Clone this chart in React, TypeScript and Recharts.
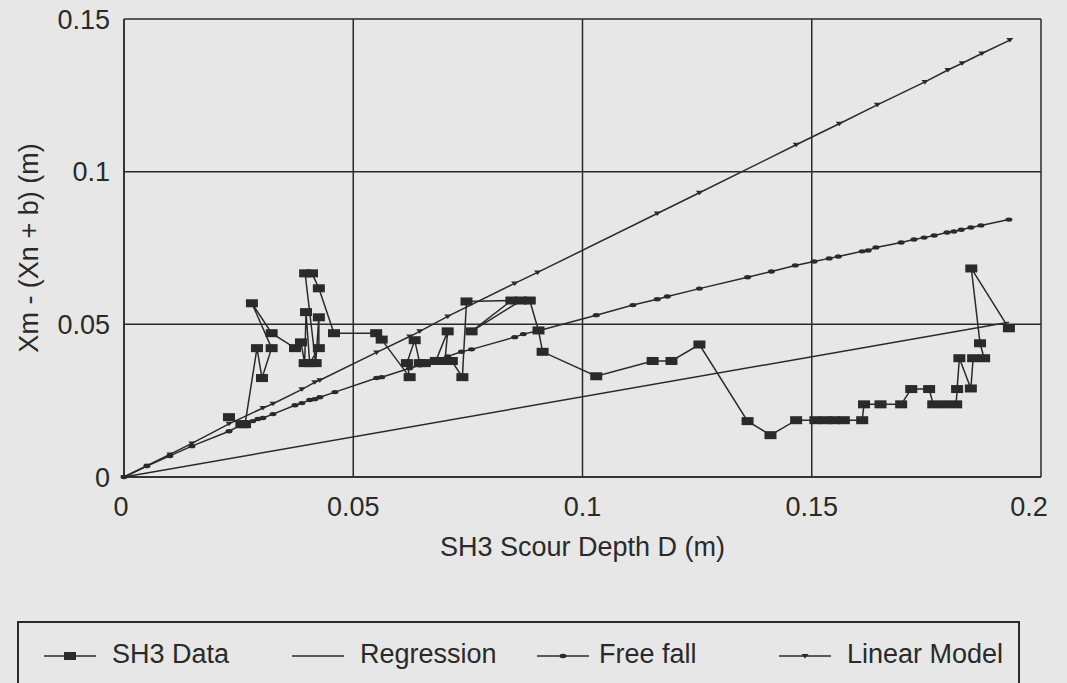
import { LineChart, Line, XAxis, YAxis, CartesianGrid } from 'recharts';

const xTicks = [0, 0.05, 0.1, 0.15, 0.2];
const yTicks = [0, 0.05, 0.1, 0.15];

// SH3 data, in measurement order
const sh3Depth = [
  0.0229, 0.0256, 0.0264, 0.029, 0.0301, 0.0322, 0.0279, 0.0322, 0.0373, 0.0386,
  0.0394, 0.0397, 0.0405, 0.0425, 0.0425, 0.0418, 0.0395, 0.041, 0.0425, 0.0458,
  0.055, 0.0562, 0.0623, 0.0617, 0.0634, 0.0645, 0.0656, 0.068, 0.0706, 0.07,
  0.0715, 0.0738, 0.0747, 0.0845, 0.0758, 0.0866, 0.0885, 0.0904, 0.0913, 0.103,
  0.1153, 0.1194, 0.1255, 0.136, 0.141, 0.1466, 0.1508, 0.153, 0.155, 0.157,
  0.161, 0.1614, 0.165, 0.1695, 0.1717, 0.1756, 0.1765, 0.179, 0.1815, 0.1817,
  0.1822, 0.1847, 0.1852, 0.1876, 0.1867, 0.1848, 0.193,
];
const sh3Value = [
  0.0196, 0.0173, 0.0173, 0.0422, 0.0324, 0.0422, 0.0569, 0.0471, 0.0422, 0.0441,
  0.0373, 0.054, 0.0373, 0.0422, 0.0523, 0.0373, 0.0667, 0.0667, 0.0618, 0.0471,
  0.0471, 0.045, 0.0327, 0.0373, 0.0448, 0.0373, 0.0373, 0.038, 0.0477, 0.038,
  0.038, 0.0327, 0.0575, 0.0578, 0.0477, 0.0578, 0.0578, 0.048, 0.041, 0.033,
  0.038, 0.038, 0.0434, 0.0183, 0.0137, 0.0186, 0.0186, 0.0186, 0.0186, 0.0186,
  0.0186, 0.0238, 0.0238, 0.0238, 0.0288, 0.0288, 0.0238, 0.0238, 0.0238, 0.0288,
  0.0389, 0.029, 0.0389, 0.0389, 0.0438, 0.0683, 0.0487,
];

const regressionDepth = [0, 0.193];
const regressionValue = [0, 0.0507];

const freeFallDepth = [
  0, 0.005, 0.01, 0.0148, 0.0229, 0.0259, 0.0281, 0.0292, 0.0303, 0.0325,
  0.0373, 0.0388, 0.0405, 0.0416, 0.0427, 0.046, 0.0551, 0.0562, 0.0623, 0.0645,
  0.068, 0.0706, 0.0736, 0.0758, 0.0852, 0.0871, 0.0906, 0.103, 0.111, 0.1163,
  0.1185, 0.1255, 0.136, 0.1412, 0.1464, 0.1505, 0.1538, 0.1558, 0.161, 0.1623,
  0.164, 0.1695, 0.1723, 0.1745, 0.1767, 0.1795, 0.181, 0.1826, 0.1847, 0.1869,
  0.193,
];
const freeFallValue = [
  0, 0.0036, 0.0069, 0.0101, 0.015, 0.0173, 0.0183, 0.019, 0.0193, 0.0206,
  0.0235, 0.0242, 0.0252, 0.0255, 0.0261, 0.0278, 0.0324, 0.0327, 0.0356, 0.0366,
  0.0383, 0.0395, 0.041, 0.0418, 0.0458, 0.0468, 0.048, 0.053, 0.0563, 0.0582,
  0.0591, 0.0617, 0.0654, 0.0673, 0.0693, 0.0706, 0.0716, 0.0722, 0.0739, 0.0742,
  0.0752, 0.0768, 0.0778, 0.0784, 0.0791, 0.0801, 0.0804, 0.081, 0.0817, 0.0824,
  0.0843,
];

const linearDepth = [
  0, 0.005, 0.01, 0.0148, 0.0229, 0.0303, 0.0325, 0.0388, 0.0416, 0.0427,
  0.0551, 0.0623, 0.0645, 0.0706, 0.0852, 0.0902, 0.1163, 0.1255, 0.1466, 0.156,
  0.1643, 0.1747, 0.1797, 0.1828, 0.1871, 0.1932,
];
const linearValue = [
  0, 0.0037, 0.0074, 0.011, 0.0174, 0.0226, 0.024, 0.0287, 0.031, 0.0317,
  0.0408, 0.046, 0.0477, 0.0526, 0.0634, 0.067, 0.0863, 0.0931, 0.1088, 0.1157,
  0.1219, 0.1294, 0.1333, 0.1355, 0.1387, 0.1431,
];

const pairs = (xs: number[], ys: number[]) => xs.map((d, i) => ({ d, v: ys[i] }));
const sh3Data = pairs(sh3Depth, sh3Value);
const regressionData = pairs(regressionDepth, regressionValue);
const freeFallData = pairs(freeFallDepth, freeFallValue);
const linearData = pairs(linearDepth, linearValue);

const INK = '#2a2a2a';
const FONT = '"Liberation Sans", Arial, sans-serif';

const SquareDot = (p: any) => (
  <rect key={p.key} x={p.cx - 6} y={p.cy - 4} width={12} height={8} fill={INK} />
);
const OvalDot = (p: any) => (
  <ellipse key={p.key} cx={p.cx} cy={p.cy} rx={3.5} ry={2.2} fill={INK} />
);
const TriDot = (p: any) => (
  <path key={p.key} d={`M${p.cx - 3.5},${p.cy - 2} L${p.cx + 3.5},${p.cy - 2} L${p.cx},${p.cy + 2.5} Z`} fill={INK} />
);

const XTick = (p: any) => {
  const v = p.payload.value;
  const shift = v === 0.2 ? -12 : v === 0 ? -3 : 0;
  return (
    <text x={p.x + shift} y={p.y} dy="0.71em" textAnchor="middle" fill={INK} fontSize={27} fontFamily={FONT}>
      {String(v)}
    </text>
  );
};

const legendItems = [
  { name: 'SH3 Data', glyph: 'square', left: 44, textLeft: 112 },
  { name: 'Regression', glyph: 'none', left: 292, textLeft: 360 },
  { name: 'Free fall', glyph: 'oval', left: 537, textLeft: 599 },
  { name: 'Linear Model', glyph: 'tri', left: 779, textLeft: 847 },
];

function Glyph({ kind }: { kind: string }) {
  return (
    <svg width={52} height={12} style={{ display: 'block' }}>
      <line x1={0} y1={6} x2={52} y2={6} stroke={INK} strokeWidth={1.5} />
      {kind === 'square' && <rect x={20} y={2} width={12} height={8} fill={INK} />}
      {kind === 'oval' && <ellipse cx={26} cy={6} rx={3.5} ry={2.2} fill={INK} />}
      {kind === 'tri' && <path d="M22.5,4 L29.5,4 L26,8.5 Z" fill={INK} />}
    </svg>
  );
}

export default function App() {
  return (
    <div style={{ position: 'absolute', left: 0, top: 0, width: 1067, height: 683, background: '#e7e7e7', overflow: 'hidden', fontFamily: FONT }}>
      <LineChart width={1067} height={683} margin={{ top: 19, right: 26, left: 24, bottom: 146 }}>
        <CartesianGrid stroke={INK} strokeWidth={1.5} horizontalValues={yTicks} verticalValues={xTicks} />
        <XAxis
          type="number"
          dataKey="d"
          domain={[0, 0.2]}
          ticks={xTicks}
          height={60}
          tickLine={false}
          tickSize={0}
          tickMargin={20}
          axisLine={{ stroke: INK, strokeWidth: 1.5 }}
          tick={<XTick />}
          label={{ value: 'SH3 Scour Depth D (m)', position: 'bottom', offset: 0, fill: INK, fontSize: 27, fontFamily: FONT }}
        />
        <YAxis
          type="number"
          dataKey="v"
          domain={[0, 0.15]}
          ticks={yTicks}
          width={100}
          tickLine={false}
          tickSize={0}
          tickMargin={14}
          axisLine={{ stroke: INK, strokeWidth: 1.5 }}
          tick={{ fill: INK, fontSize: 27, fontFamily: FONT }}
          label={{ value: 'Xm - (Xn + b)  (m)', angle: -90, position: 'insideLeft', offset: 4, fill: INK, fontSize: 27, fontFamily: FONT, style: { textAnchor: 'middle', whiteSpace: 'pre' } }}
        />
        <Line data={regressionData} dataKey="v" name="Regression" stroke={INK} strokeWidth={1.5} dot={false} isAnimationActive={false} />
        <Line data={linearData} dataKey="v" name="Linear Model" stroke={INK} strokeWidth={1.5} dot={<TriDot />} isAnimationActive={false} />
        <Line data={freeFallData} dataKey="v" name="Free fall" stroke={INK} strokeWidth={1.5} dot={<OvalDot />} isAnimationActive={false} />
        <Line data={sh3Data} dataKey="v" name="SH3 Data" stroke={INK} strokeWidth={1.5} dot={<SquareDot />} isAnimationActive={false} />
      </LineChart>
      <div style={{ position: 'absolute', left: 17, top: 621, width: 1003, height: 80, border: `2px solid ${INK}`, boxSizing: 'border-box' }}>
        {legendItems.map((it) => (
          <div key={it.name}>
            <div style={{ position: 'absolute', left: it.left - 19, top: 27 }}>
              <Glyph kind={it.glyph} />
            </div>
            <div style={{ position: 'absolute', left: it.textLeft - 19, top: 16, fontSize: 27, color: INK, whiteSpace: 'nowrap' }}>
              {it.name}
            </div>
          </div>
        ))}
      </div>
    </div>
  );
}
